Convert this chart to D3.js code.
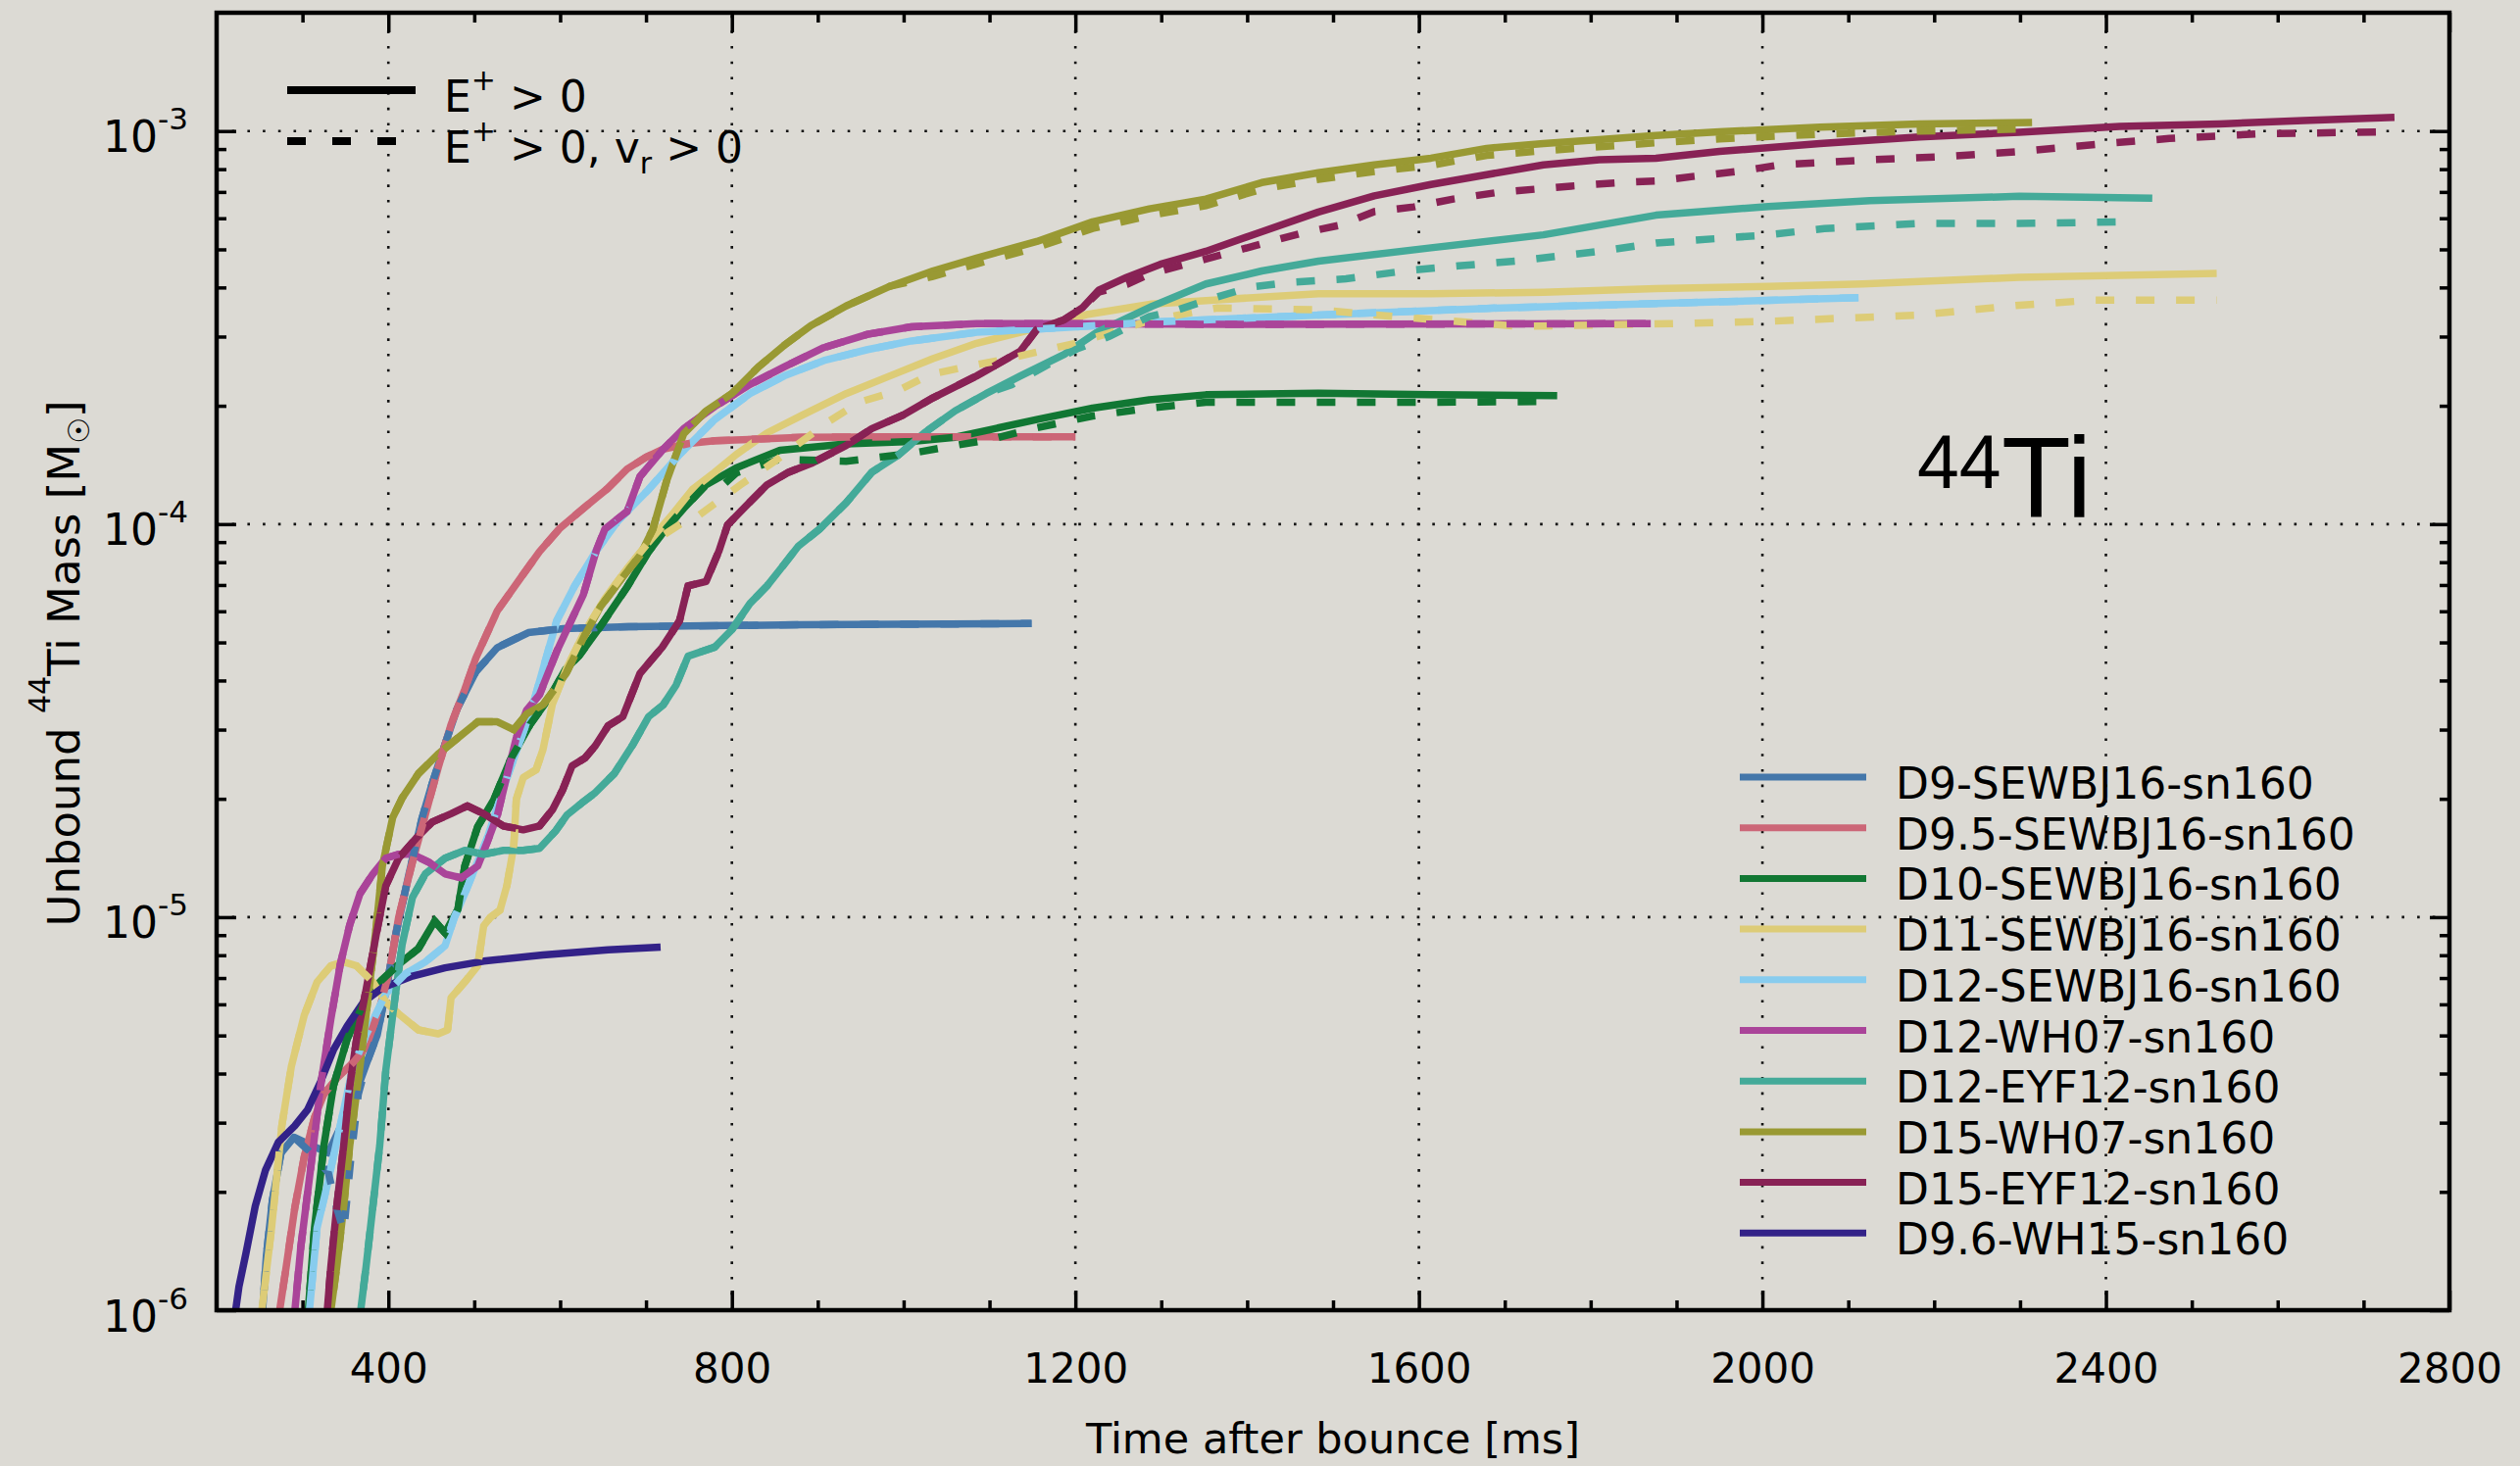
<!DOCTYPE html>
<html>
<head>
<meta charset="utf-8">
<script src="https://cdn.jsdelivr.net/npm/d3@7"></script>
<style>
  body { margin: 0; background: #dcdad4; }
  svg { display: block; font-family: "DejaVu Sans", sans-serif; }
</style>
</head>
<body>
<div class="chart"></div>
<script>
// model names and their line colours (legend order)
var models = ["D9-SEWBJ16-sn160", "D9.5-SEWBJ16-sn160", "D10-SEWBJ16-sn160", "D11-SEWBJ16-sn160",
              "D12-SEWBJ16-sn160", "D12-WH07-sn160", "D12-EYF12-sn160", "D15-WH07-sn160",
              "D15-EYF12-sn160", "D9.6-WH15-sn160"];
var colors = ["#4477aa", "#cc6677", "#117733", "#ddcc77", "#88ccee", "#aa4499", "#44aa99", "#999933", "#882255", "#332288"];

var xTicks = [400, 800, 1200, 1600, 2000, 2400, 2800];
var yTicks = [1e-6, 1e-5, 1e-4, 1e-3];
var yTickExp = ["-6", "-5", "-4", "-3"];

// ---- solid lines: E+ > 0   (t in ms, lg = log10 of 44Ti mass in Msun) ----
var tD9   = [252, 258, 265, 275, 290, 310, 330, 345, 360, 375, 387, 397, 409, 424, 439, 451, 466, 480, 502, 527, 563, 604, 680, 882, 1149];
var lgD9  = [-6.05, -5.86, -5.72, -5.6, -5.56, -5.58, -5.6, -5.53, -5.46, -5.37, -5.3, -5.19, -5.04, -4.89, -4.75, -4.66, -4.56, -4.47, -4.375, -4.314, -4.276, -4.266, -4.261, -4.256, -4.253];

var tD95  = [270, 281, 291, 302, 314, 325, 340, 359, 374, 390, 401, 412, 428, 443, 458, 473, 489, 502, 527, 553, 576, 600, 627, 655, 678, 700, 719, 750, 780, 882, 1000, 1200];
var lgD95 = [-6.05, -5.89, -5.74, -5.61, -5.51, -5.45, -5.41, -5.37, -5.33, -5.23, -5.14, -5.0, -4.86, -4.74, -4.62, -4.51, -4.42, -4.34, -4.22, -4.14, -4.07, -4.01, -3.96, -3.91, -3.86, -3.83, -3.81, -3.795, -3.788, -3.779, -3.778, -3.778];

var tD10  = [305, 314, 325, 336, 352, 371, 390, 412, 435, 454, 466, 481, 489, 504, 523, 542, 565, 588, 606, 622, 647, 678, 703, 724, 744, 770, 805, 856, 933, 1009, 1060, 1100, 1155, 1220, 1286, 1352, 1483, 1614, 1761];
var lgD10 = [-6.05, -5.79, -5.58, -5.43, -5.31, -5.22, -5.165, -5.12, -5.08, -5.01, -5.04, -4.98, -4.87, -4.77, -4.7, -4.6, -4.51, -4.44, -4.37, -4.335, -4.26, -4.16, -4.07, -4.01, -3.96, -3.9, -3.857, -3.812, -3.796, -3.79, -3.779, -3.76, -3.734, -3.705, -3.684, -3.671, -3.667, -3.671, -3.673];

var tD11  = [250, 264, 276, 287, 302, 317, 333, 348, 363, 382, 397, 412, 435, 458, 469, 473, 489, 504, 511, 519, 530, 538, 546, 549, 557, 572, 580, 591, 607, 627, 652, 678, 703, 729, 754, 780, 805, 841, 882, 933, 984, 1034, 1085, 1136, 1213, 1289, 1375, 1483, 1614, 1745, 1876, 2008, 2117, 2299, 2529];
var lgD11 = [-6.05, -5.79, -5.53, -5.38, -5.25, -5.165, -5.124, -5.114, -5.124, -5.165, -5.216, -5.246, -5.287, -5.297, -5.287, -5.205, -5.165, -5.124, -5.022, -5.0, -4.982, -4.92, -4.82, -4.7, -4.645, -4.625, -4.574, -4.458, -4.37, -4.28, -4.19, -4.113, -4.046, -3.98, -3.912, -3.868, -3.823, -3.768, -3.723, -3.668, -3.623, -3.579, -3.54, -3.512, -3.467, -3.44, -3.428, -3.414, -3.414, -3.41, -3.401, -3.395, -3.389, -3.372, -3.362];

var tD12s  = [306, 317, 329, 344, 359, 374, 397, 420, 443, 466, 477, 489, 500, 515, 527, 538, 553, 568, 596, 617, 642, 668, 703, 739, 780, 821, 861, 907, 958, 1009, 1085, 1187, 1289, 1375, 1483, 1679, 1876, 2112];
var lgD12s = [-6.05, -5.79, -5.68, -5.53, -5.38, -5.3, -5.195, -5.144, -5.114, -5.073, -5.0, -4.94, -4.88, -4.8, -4.72, -4.646, -4.554, -4.462, -4.246, -4.157, -4.068, -3.99, -3.912, -3.823, -3.734, -3.668, -3.623, -3.584, -3.556, -3.534, -3.512, -3.5, -3.486, -3.478, -3.468, -3.451, -3.439, -3.424];

var tD12w  = [289, 298, 310, 321, 333, 344, 355, 367, 382, 397, 412, 428, 447, 466, 485, 504, 515, 527, 538, 549, 561, 576, 596, 627, 642, 652, 678, 693, 719, 744, 780, 821, 861, 907, 958, 1009, 1085, 1187, 1375, 1870];
var lgD12w = [-6.05, -5.84, -5.63, -5.43, -5.26, -5.12, -5.02, -4.94, -4.89, -4.85, -4.84, -4.84, -4.86, -4.89, -4.9, -4.87, -4.81, -4.74, -4.64, -4.544, -4.473, -4.434, -4.324, -4.18, -4.068, -4.013, -3.968, -3.879, -3.812, -3.757, -3.701, -3.645, -3.6, -3.551, -3.517, -3.498, -3.49, -3.49, -3.492, -3.49];

var tD12e  = [365, 374, 382, 390, 397, 405, 416, 428, 443, 466, 489, 511, 534, 557, 576, 595, 608, 625, 640, 663, 685, 703, 720, 735, 749, 780, 800, 821, 841, 861, 877, 902, 933, 963, 994, 1024, 1060, 1096, 1136, 1187, 1225, 1289, 1352, 1417, 1483, 1614, 1745, 1876, 2007, 2125, 2299, 2454];
var lgD12e = [-6.05, -5.89, -5.735, -5.58, -5.39, -5.25, -5.07, -4.95, -4.89, -4.85, -4.83, -4.84, -4.83, -4.83, -4.825, -4.78, -4.74, -4.71, -4.685, -4.635, -4.56, -4.49, -4.46, -4.41, -4.336, -4.313, -4.269, -4.202, -4.157, -4.102, -4.057, -4.013, -3.946, -3.868, -3.824, -3.768, -3.712, -3.668, -3.623, -3.568, -3.512, -3.446, -3.389, -3.356, -3.331, -3.297, -3.264, -3.214, -3.192, -3.177, -3.166, -3.171];

var tD15w  = [330, 340, 348, 355, 367, 378, 386, 393, 405, 416, 435, 458, 481, 504, 527, 546, 561, 580, 607, 627, 647, 673, 693, 708, 724, 744, 770, 800, 831, 861, 892, 933, 984, 1034, 1085, 1155, 1220, 1286, 1352, 1417, 1483, 1548, 1614, 1679, 1745, 1810, 1876, 1950, 2067, 2183, 2314];
var lgD15w = [-6.05, -5.888, -5.735, -5.582, -5.379, -5.175, -5.022, -4.87, -4.747, -4.697, -4.635, -4.585, -4.544, -4.503, -4.503, -4.523, -4.483, -4.46, -4.38, -4.29, -4.21, -4.135, -4.08, -4.013, -3.89, -3.77, -3.712, -3.668, -3.6, -3.545, -3.495, -3.445, -3.395, -3.356, -3.323, -3.281, -3.231, -3.198, -3.173, -3.131, -3.106, -3.086, -3.069, -3.044, -3.032, -3.022, -3.011, -3.002, -2.99, -2.982, -2.978];

var tD15e  = [327, 333, 340, 348, 355, 363, 374, 386, 397, 412, 432, 451, 473, 492, 511, 534, 557, 576, 591, 603, 614, 629, 641, 656, 673, 693, 719, 739, 749, 770, 785, 795, 815, 841, 866, 892, 933, 963, 999, 1034, 1085, 1136, 1155, 1187, 1208, 1227, 1260, 1299, 1352, 1417, 1483, 1548, 1614, 1679, 1745, 1810, 1876, 1950, 2067, 2183, 2299, 2416, 2532, 2630, 2736];
var lgD15e = [-6.05, -5.89, -5.735, -5.58, -5.43, -5.31, -5.185, -5.043, -4.92, -4.85, -4.8, -4.758, -4.737, -4.717, -4.737, -4.768, -4.778, -4.768, -4.727, -4.676, -4.615, -4.595, -4.564, -4.513, -4.49, -4.38, -4.313, -4.246, -4.157, -4.146, -4.068, -4.002, -3.957, -3.9, -3.868, -3.846, -3.8, -3.757, -3.723, -3.679, -3.623, -3.56, -3.505, -3.48, -3.45, -3.405, -3.372, -3.339, -3.306, -3.256, -3.206, -3.165, -3.136, -3.111, -3.086, -3.073, -3.069, -3.052, -3.032, -3.015, -3.003, -2.988, -2.982, -2.973, -2.965];

var tD96  = [219, 226, 234, 245, 257, 272, 291, 306, 321, 336, 352, 371, 393, 428, 466, 511, 580, 656, 717];
var lgD96 = [-6.05, -5.94, -5.857, -5.735, -5.643, -5.572, -5.531, -5.49, -5.419, -5.338, -5.277, -5.216, -5.18, -5.15, -5.129, -5.112, -5.096, -5.083, -5.076];

// ---- dashed lines: E+ > 0, vr > 0 (only the part that differs from the solid line) ----
var tD9v   = [252, 258, 265, 275, 290, 310, 330, 340, 348, 356, 365, 375, 387, 397, 409, 424, 439, 451, 466, 480, 502, 527, 563, 604, 680, 882, 1149];
var lgD9v  = [-6.05, -5.86, -5.72, -5.6, -5.56, -5.6, -5.65, -5.74, -5.8, -5.62, -5.45, -5.37, -5.3, -5.19, -5.04, -4.89, -4.75, -4.66, -4.56, -4.47, -4.375, -4.314, -4.276, -4.266, -4.261, -4.256, -4.253];
var tD10v  = [790, 805, 856, 933, 1009, 1060, 1100, 1155, 1220, 1286, 1352, 1483, 1614, 1761];
var lgD10v = [-3.9, -3.87, -3.835, -3.84, -3.82, -3.8, -3.785, -3.755, -3.725, -3.705, -3.69, -3.69, -3.69, -3.688];
var tD11v  = [719, 740, 760, 785, 810, 850, 912, 948, 994, 1030, 1072, 1120, 1200, 1290, 1365, 1483, 1561, 1620, 1717, 1892, 2008, 2183, 2299, 2387, 2529];
var lgD11v = [-4.03, -4.0, -3.98, -3.94, -3.9, -3.84, -3.74, -3.69, -3.66, -3.62, -3.6, -3.58, -3.54, -3.48, -3.45, -3.455, -3.47, -3.48, -3.497, -3.49, -3.484, -3.468, -3.443, -3.43, -3.43];
var tD12ev  = [1126, 1201, 1240, 1286, 1319, 1365, 1404, 1450, 1515, 1587, 1646, 1717, 1810, 1876, 1950, 2007, 2072, 2183, 2299, 2428];
var lgD12ev = [-3.645, -3.555, -3.522, -3.472, -3.455, -3.422, -3.397, -3.385, -3.376, -3.355, -3.343, -3.33, -3.306, -3.285, -3.273, -3.264, -3.248, -3.235, -3.235, -3.231];
var tD15wv  = [1034, 1085, 1155, 1220, 1286, 1352, 1417, 1483, 1548, 1614, 1679, 1745, 1810, 1876, 1950, 2067, 2183, 2300];
var lgD15wv = [-3.37, -3.338, -3.296, -3.248, -3.215, -3.19, -3.148, -3.123, -3.103, -3.087, -3.062, -3.05, -3.04, -3.03, -3.02, -3.008, -3.0, -2.995];
var tD15ev  = [1227, 1260, 1286, 1378, 1463, 1509, 1548, 1594, 1640, 1692, 1735, 1777, 1834, 1876, 1921, 1974, 2020, 2125, 2212, 2299, 2398, 2474, 2579, 2730];
var lgD15ev = [-3.41, -3.39, -3.364, -3.31, -3.26, -3.239, -3.205, -3.193, -3.173, -3.156, -3.148, -3.14, -3.131, -3.127, -3.115, -3.102, -3.086, -3.073, -3.065, -3.052, -3.032, -3.019, -3.007, -3.002];

function pts(t, lg) {
  return t.map((v, i) => [v, lg[i]]);
}
// dashed curve = solid curve up to where the dashed data starts
function withEarly(ts, ls, td, ld) {
  return pts(ts, ls).filter(d => d[0] < td[0]).concat(pts(td, ld));
}

var solid = [
  {m: 0, p: pts(tD9, lgD9)},
  {m: 1, p: pts(tD95, lgD95)},
  {m: 2, p: pts(tD10, lgD10)},
  {m: 3, p: pts(tD11, lgD11)},
  {m: 4, p: pts(tD12s, lgD12s)},
  {m: 5, p: pts(tD12w, lgD12w)},
  {m: 6, p: pts(tD12e, lgD12e)},
  {m: 7, p: pts(tD15w, lgD15w)},
  {m: 8, p: pts(tD15e, lgD15e)},
  {m: 9, p: pts(tD96, lgD96)}
];
var dashed = [
  {m: 0, p: pts(tD9v, lgD9v)},
  {m: 1, p: pts(tD95, lgD95)},
  {m: 2, p: withEarly(tD10, lgD10, tD10v, lgD10v)},
  {m: 3, p: withEarly(tD11, lgD11, tD11v, lgD11v)},
  {m: 4, p: pts(tD12s, lgD12s)},
  {m: 5, p: pts(tD12w, lgD12w)},
  {m: 6, p: withEarly(tD12e, lgD12e, tD12ev, lgD12ev)},
  {m: 7, p: withEarly(tD15w, lgD15w, tD15wv, lgD15wv)},
  {m: 8, p: withEarly(tD15e, lgD15e, tD15ev, lgD15ev)}
];

var pL = 221, pR = 2499, pT = 13, pB = 1337;

var svg = d3.select(".chart")
  .append("svg")
  .attr("width", 2571)
  .attr("height", 1496);

svg.append("rect")
  .attr("width", 2571)
  .attr("height", 1496)
  .attr("fill", "#dcdad4");

var x = d3.scaleLinear().domain([200, 2800]).range([pL, pR]);
var y = d3.scaleLog().domain([1e-6, 2e-3]).range([pB, pT]);

// dotted grid
var grid = svg.append("g")
  .attr("stroke", "#111")
  .attr("stroke-width", 2.6)
  .attr("stroke-dasharray", "2.6,13.1");
grid.selectAll(".gx")
  .data(xTicks.filter(d => d < 2800))
  .enter().append("line")
  .attr("x1", d => x(d)).attr("x2", d => x(d))
  .attr("y1", pB).attr("y2", pT);
grid.selectAll(".gy")
  .data(yTicks.filter(d => d > 1e-6))
  .enter().append("line")
  .attr("x1", pL).attr("x2", pR)
  .attr("y1", d => y(d)).attr("y2", d => y(d));

svg.append("clipPath").attr("id", "plot")
  .append("rect")
  .attr("x", pL).attr("y", pT)
  .attr("width", pR - pL).attr("height", pB - pT);

var line = d3.line()
  .x(d => x(d[0]))
  .y(d => y(Math.pow(10, d[1])));

var curves = svg.append("g").attr("clip-path", "url(#plot)");

curves.selectAll(".solid")
  .data(solid)
  .enter().append("path")
  .attr("class", "solid")
  .attr("d", d => line(d.p))
  .attr("fill", "none")
  .attr("stroke", d => colors[d.m])
  .attr("stroke-width", 7.5)
  .attr("stroke-linejoin", "round");

curves.selectAll(".dashed")
  .data(dashed)
  .enter().append("path")
  .attr("class", "dashed")
  .attr("d", d => line(d.p))
  .attr("fill", "none")
  .attr("stroke", d => colors[d.m])
  .attr("stroke-width", 7.5)
  .attr("stroke-dasharray", "19,22");

// axes: ticks point inward on all four sides
var minorX = d3.range(300, 2800, 100).filter(d => xTicks.indexOf(d) < 0);
var minorY = y.ticks().filter(d => yTicks.indexOf(d) < 0 && d < 1e-3);

function tidy(g) {
  g.select(".domain").remove();
  g.selectAll(".tick line").attr("stroke", "#000").attr("stroke-width", 3.5);
}

svg.append("g")
  .attr("transform", "translate(0," + pB + ")")
  .call(d3.axisBottom(x).tickValues(xTicks).tickSize(-20).tickPadding(44).tickFormat(d3.format("d")))
  .call(tidy)
  .call(g => g.selectAll(".tick text").attr("font-size", 42).attr("font-family", "DejaVu Sans").attr("fill", "#000"));
svg.append("g")
  .attr("transform", "translate(0," + pB + ")")
  .call(d3.axisBottom(x).tickValues(minorX).tickSize(-10).tickFormat(""))
  .call(tidy);
svg.append("g")
  .attr("transform", "translate(0," + pT + ")")
  .call(d3.axisTop(x).tickValues(xTicks).tickSize(-20).tickFormat(""))
  .call(tidy);
svg.append("g")
  .attr("transform", "translate(0," + pT + ")")
  .call(d3.axisTop(x).tickValues(minorX).tickSize(-10).tickFormat(""))
  .call(tidy);

var yAxis = svg.append("g")
  .attr("transform", "translate(" + pL + ",0)")
  .call(d3.axisLeft(y).tickValues(yTicks).tickSize(-20).tickPadding(29).tickFormat(""))
  .call(tidy);
yAxis.selectAll(".tick text")
  .attr("font-family", "DejaVu Sans")
  .attr("fill", "#000")
  .attr("dy", 21)
  .each(function (d, i) {
    var t = d3.select(this);
    t.append("tspan").attr("font-size", 44).text("10");
    t.append("tspan").attr("font-size", 31).attr("dy", -23).text(yTickExp[i]);
  });
svg.append("g")
  .attr("transform", "translate(" + pL + ",0)")
  .call(d3.axisLeft(y).tickValues(minorY).tickSize(-10).tickFormat(""))
  .call(tidy);
svg.append("g")
  .attr("transform", "translate(" + pR + ",0)")
  .call(d3.axisRight(y).tickValues(yTicks).tickSize(-20).tickFormat(""))
  .call(tidy);
svg.append("g")
  .attr("transform", "translate(" + pR + ",0)")
  .call(d3.axisRight(y).tickValues(minorY).tickSize(-10).tickFormat(""))
  .call(tidy);

svg.append("rect")
  .attr("x", pL).attr("y", pT)
  .attr("width", pR - pL).attr("height", pB - pT)
  .attr("fill", "none")
  .attr("stroke", "#000")
  .attr("stroke-width", 4.5);

// axis titles
svg.append("text")
  .attr("x", (pL + pR) / 2)
  .attr("y", 1483)
  .attr("text-anchor", "middle")
  .attr("font-size", 43)
  .text("Time after bounce [ms]");

var yt = svg.append("text")
  .attr("transform", "translate(81,677) rotate(-90)")
  .attr("text-anchor", "middle")
  .attr("font-size", 45);
yt.append("tspan").text("Unbound ");
yt.append("tspan").attr("font-size", 30).attr("dy", -30).text("44");
yt.append("tspan").attr("dy", 30).text("Ti Mass [M");
yt.append("tspan").attr("font-size", 30).attr("dy", 10).text("\u2609");
yt.append("tspan").attr("dy", -10).text("]");

// 44Ti label
svg.append("text")
  .attr("x", 1956).attr("y", 498)
  .attr("font-family", "Liberation Sans")
  .attr("font-size", 77)
  .text("44");
svg.append("text")
  .attr("x", 2042).attr("y", 528)
  .attr("font-family", "Liberation Sans")
  .attr("font-size", 116)
  .text("Ti");

// line-style key (top left)
var key = svg.append("g");
key.append("line")
  .attr("x1", 293).attr("x2", 424).attr("y1", 92).attr("y2", 92)
  .attr("stroke", "#000").attr("stroke-width", 8);
key.append("line")
  .attr("x1", 293).attr("x2", 424).attr("y1", 144).attr("y2", 144)
  .attr("stroke", "#000").attr("stroke-width", 8).attr("stroke-dasharray", "19,27");
var k1 = key.append("text").attr("x", 453).attr("y", 114).attr("font-size", 44);
k1.append("tspan").text("E");
k1.append("tspan").attr("font-size", 30).attr("dy", -22).text("+");
k1.append("tspan").attr("dy", 22).text(" > 0");
var k2 = key.append("text").attr("x", 453).attr("y", 166).attr("font-size", 44);
k2.append("tspan").text("E");
k2.append("tspan").attr("font-size", 30).attr("dy", -22).text("+");
k2.append("tspan").attr("dy", 22).text(" > 0, v");
k2.append("tspan").attr("font-size", 30).attr("dy", 11).text("r");
k2.append("tspan").attr("dy", -11).text(" > 0");

// model key (bottom right)
var legend = svg.append("g")
  .selectAll("g")
  .data(models)
  .enter().append("g")
  .attr("transform", (d, i) => "translate(0," + (793 + i * 51.7) + ")");
legend.append("line")
  .attr("x1", 1775).attr("x2", 1904)
  .attr("stroke", (d, i) => colors[i])
  .attr("stroke-width", 7);
legend.append("text")
  .attr("x", 1934).attr("y", 22)
  .attr("font-size", 44)
  .text(d => d);
</script>
</body>
</html>
